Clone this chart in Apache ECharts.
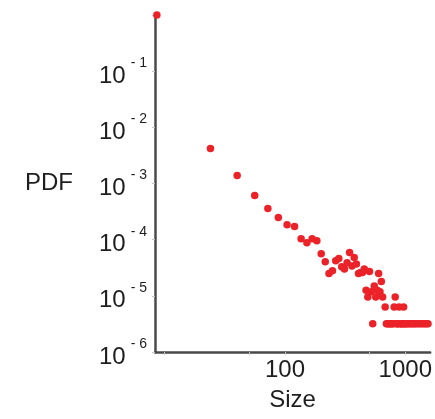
<!DOCTYPE html>
<html>
<head>
<meta charset="utf-8">
<script src="https://cdn.jsdelivr.net/npm/echarts@6/dist/echarts.min.js"></script>
<style>
html,body{margin:0;padding:0;background:#fff;}
#chart{width:435px;height:419px;}
</style>
</head>
<body>
<div id="chart"></div>
<script>
// Data (Size bins vs PDF)
var sizes = [8.6, 24, 40, 56, 72, 88, 104, 120, 136, 152, 168, 184, 200, 216, 232, 248, 264, 280, 296, 312, 328, 344, 360, 376, 392, 408, 424, 440, 456, 472, 488, 504, 520, 536, 552, 568, 584, 600, 616, 632, 648, 680, 696, 712, 728, 744, 760, 776, 792, 808, 824, 840, 856, 872, 888, 904, 920, 936, 952, 968, 984, 1000, 1016, 1048, 1080, 1112, 1144, 1176, 1208, 1256, 1304, 1352, 1400, 1448, 1496, 1544];
var pdf = [1.0, 4.2e-3, 1.39e-3, 6.1e-4, 3.6e-4, 2.47e-4, 1.85e-4, 1.71e-4, 1.04e-4, 8.8e-5, 1.04e-4, 9.6e-5, 5.6e-5, 4.05e-5, 2.5e-5, 2.8e-5, 4.2e-5, 4.6e-5, 3.3e-5, 3.0e-5, 3.9e-5, 5.9e-5, 3.4e-5, 4.8e-5, 3.7e-5, 2.5e-5, 2.6e-5, 2.6e-5, 3.0e-5, 1.26e-5, 9.5e-6, 2.7e-5, 1.18e-5, 3.2e-6, 1.5e-5, 9.5e-6, 1.26e-5, 2.5e-5, 1.18e-5, 1.8e-5, 9.5e-6, 6.3e-6, 3.2e-6, 3.2e-6, 3.2e-6, 3.2e-6, 3.2e-6, 3.2e-6, 3.2e-6, 6.3e-6, 9.5e-6, 3.2e-6, 3.2e-6, 3.2e-6, 6.3e-6, 3.2e-6, 3.2e-6, 3.2e-6, 3.2e-6, 6.3e-6, 3.2e-6, 3.2e-6, 3.2e-6, 3.2e-6, 3.2e-6, 3.2e-6, 3.2e-6, 3.2e-6, 3.2e-6, 3.2e-6, 3.2e-6, 3.2e-6, 3.2e-6, 3.2e-6, 3.2e-6, 3.2e-6];
var xTickValues = [10, 50, 100, 500, 1000];
var xLabelValues = [100, 1000];
var yTickExponents = [-6, -5, -4, -3, -2, -1];

var points = sizes.map(function (s, i) { return [s, pdf[i]]; });
var FONT = 'Liberation Sans';
var TEXT = '#1e1e1e';

var chart = echarts.init(document.getElementById('chart'), null, {renderer: 'canvas'});
chart.setOption({
  animation: false,
  backgroundColor: '#ffffff',
  grid: {left: 155, right: 3, top: 15, bottom: 67, containLabel: false},
  xAxis: {
    type: 'log',
    logBase: 10,
    min: 8.3,
    max: 1610,
    name: 'Size',
    nameLocation: 'middle',
    nameGap: 36,
    nameTextStyle: {fontFamily: FONT, fontSize: 24, color: TEXT},
    axisLine: {show: true, lineStyle: {color: '#4a4a4a', width: 2.5}},
    axisTick: {show: true, length: 3, inside: false, customValues: xTickValues,
      lineStyle: {color: '#c4c4c4', width: 1}},
    axisLabel: {
      show: true, margin: 6, fontFamily: FONT, fontSize: 24, color: TEXT,
      showMinLabel: false, showMaxLabel: false,
      formatter: function (v) {
        for (var i = 0; i < xLabelValues.length; i++) {
          if (Math.abs(v - xLabelValues[i]) < 0.5) return String(xLabelValues[i]);
        }
        return '';
      }
    },
    splitLine: {show: false}
  },
  yAxis: {
    type: 'log',
    logBase: 10,
    min: 1e-6,
    max: 1,
    splitNumber: 6,
    name: 'PDF',
    nameLocation: 'middle',
    nameRotate: 0,
    nameGap: 82,
    nameTextStyle: {fontFamily: FONT, fontSize: 24, color: TEXT},
    axisLine: {show: true, lineStyle: {color: '#4a4a4a', width: 2.5}},
    axisTick: {show: true, length: 3, inside: false, lineStyle: {color: '#c4c4c4', width: 1}},
    axisLabel: {
      show: true, margin: 8, color: TEXT,
      formatter: function (v) {
        var e = Math.round(Math.log(v) / Math.LN10);
        if (yTickExponents.indexOf(e) < 0) return '';
        return '{b|10}{s|- ' + (-e) + '}';
      },
      rich: {
        b: {fontFamily: FONT, fontSize: 24, lineHeight: 34, color: TEXT, verticalAlign: 'bottom'},
        s: {fontFamily: FONT, fontSize: 14, lineHeight: 14, color: TEXT, verticalAlign: 'top', padding: [2, 0, 0, 5]}
      }
    },
    splitLine: {show: false}
  },
  series: [{
    type: 'scatter',
    data: points,
    symbol: 'circle',
    symbolSize: 7.5,
    clip: false,
    itemStyle: {color: '#ec2229', opacity: 1}
  }]
});
</script>
</body>
</html>
